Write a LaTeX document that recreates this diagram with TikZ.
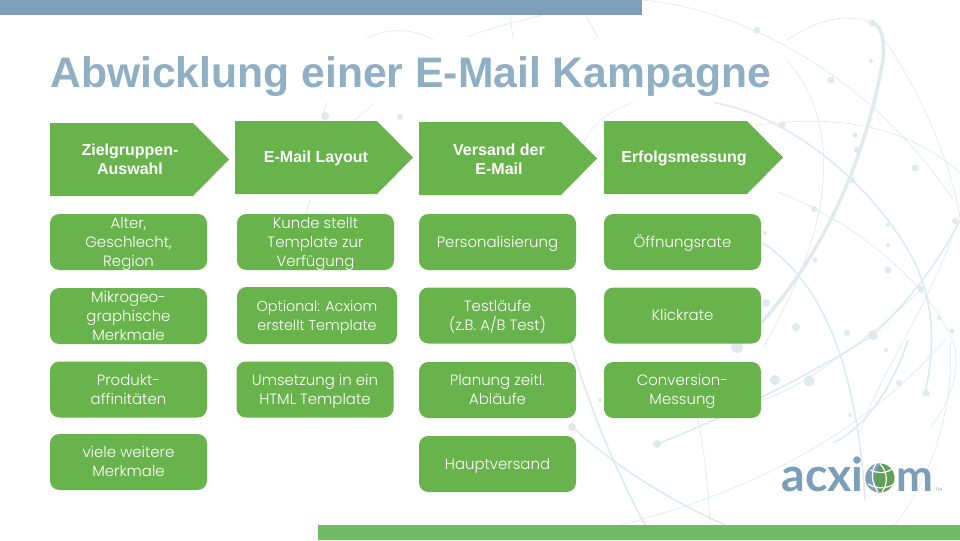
\documentclass[tikz,border=0pt]{standalone}
\usepackage{fontspec}
\setmainfont{Poppins Light}
\newfontfamily\arialfont{Liberation Sans}
\newfontfamily\logofont{Lato}

\definecolor{boxgreen}{HTML}{69B34C}
\definecolor{bandgreen}{HTML}{70BC65}
\definecolor{bandblue}{HTML}{7F9FB8}
\definecolor{titleblue}{HTML}{8FAFC5}
\definecolor{globeline}{HTML}{E1E9EF}
\definecolor{logoblue}{HTML}{7C9FB9}

\tikzset{
  x=0.75pt, y=-0.75pt,
  thinline/.style={draw=globeline, line width=0.5pt},
  midline/.style={draw=globeline, line width=1.2pt},
  thickline/.style={draw=globeline, line width=2.6pt},
  stepfill/.style={fill=boxgreen},
  steptext/.style={text=white, align=center, font=\arialfont\bfseries\fontsize{12}{14.25}\selectfont},
  itembox/.style={fill=boxgreen, rounded corners=7pt, text=white, align=center, inner sep=0pt,
    minimum width=117.75pt, minimum height=42pt, font=\fontsize{11.2}{14.25}\selectfont,
    execute at begin node=\rule[-3pt]{0pt}{#1}},
  itembox/.default=13.5pt,
}

\begin{document}
\begin{tikzpicture}
  \useasboundingbox (0, 0) rectangle (960, 540);
  \fill[white] (0, 0) rectangle (960, 540);

  % globe in the background
  \draw[thickline, line cap=round] (737, 347) .. controls (800, 290) and (860, 190) .. (883, 60) .. controls (885, 35) and (880, 25) .. (872, 23);
  \draw[midline, line cap=round] (715, 103) .. controls (790, 115) and (880, 190) .. (917, 267) .. controls (940, 320) and (930, 370) .. (925, 393);
  \draw[midline] (763, 243) .. controls (810, 275) and (855, 340) .. (865, 500);
  \draw[midline, line cap=round] (657, 444) .. controls (720, 420) and (820, 370) .. (873, 335) .. controls (910, 300) and (940, 260) .. (960, 220);
  \draw[midline] (560, 300) .. controls (575, 370) and (605, 450) .. (645, 525);
  \draw[midline, line cap=round] (572, 427) .. controls (620, 470) and (670, 500) .. (725, 525);
  \draw[midline] (833, 443) .. controls (870, 425) and (895, 380) .. (908, 340);
  \draw[thinline] (640, 0) .. controls (720, 5) and (860, 60) .. (953, 200);
  \draw[thinline] (787, 40) .. controls (810, 25) and (840, 10) .. (872, 23);
  \draw[thinline] (757, 125) .. controls (800, 120) and (890, 110) .. (960, 173);
  \draw[thinline] (778, 192) .. controls (850, 220) and (930, 280) .. (955, 347) .. controls (960, 380) and (945, 410) .. (930, 427);
  \draw[thinline] (787, 60) .. controls (830, 110) and (850, 200) .. (763, 347);
  \draw[thinline] (880, 33) .. controls (920, 90) and (950, 160) .. (960, 217);
  \draw[thinline] (860, 433) .. controls (880, 370) and (930, 310) .. (960, 213);
  \draw[thinline] (697, 417) .. controls (705, 450) and (708, 490) .. (710, 523);
  \draw[thinline] (762, 400) .. controls (800, 390) and (880, 330) .. (921, 289);
  \draw[thinline] (895, 525) .. controls (930, 480) and (955, 410) .. (950, 340);
  \draw[thinline] (620, 525) .. controls (720, 500) and (850, 450) .. (945, 340);
  \draw[thinline] (367, 38) .. controls (385, 28) and (415, 28) .. (433, 40);
  \draw[thinline] (467, 37) .. controls (490, 28) and (515, 22) .. (543, 15);
  \draw[thinline] (510, 15) -- (513, 38);
  \draw[thinline] (587, 17) -- (598, 38);
  \draw[thinline] (327, 103) -- (322, 115);
  \draw[thinline] (375, 103) -- (355, 120);
  \draw[thinline] (633, 103) .. controls (610, 110) and (590, 125) .. (583, 145);
  \draw[thinline] (300, 232) -- (310, 200);
  \foreach \dotx/\doty/\dotr in {325/116/4, 400/117/3, 757/30/3.5, 872/23/3.5, 831/80/3.5, 871/61/2, 855/135/2.5,
    782/125/3.5, 857/150/3, 915/168/3.5, 852/180/3, 814/209/3, 888/225/2, 888/245/2, 815/260/2.5, 888/270/3.5,
    766/303/4, 796/327/4, 737/347/6, 847/333/3, 873/335/5, 921/289/3.5, 939/318/2.5, 952/331/2.5, 809/381/5.5,
    899/383/3, 926/393/3.5, 657/444/4, 572/427/4, 775/380/5, 600/400/2, 886/350/2, 850/415/2, 765/233/2, 955/221/3} {
    \fill[globeline] (\dotx, \doty) circle (\dotr);
  }

  % bands and title
  \fill[bandblue] (0, 0) rectangle (642, 15);
  \fill[bandgreen] (318, 525) rectangle (960, 540);
  \fill[white] (0, 40) rectangle (760, 102);
  \node[anchor=west, inner sep=0pt, text=titleblue, font=\arialfont\bfseries\fontsize{32}{38}\selectfont] (title) at (50, 77) {Abwicklung einer E-Mail Kampagne};

  % process steps
  \fill[stepfill] (50, 123) -- (193, 123) -- (229, 159.5) -- (193, 196) -- (50, 196) -- cycle;
  \fill[stepfill] (235, 121) -- (377, 121) -- (413, 157.5) -- (377, 194) -- (235, 194) -- cycle;
  \fill[stepfill] (419, 122) -- (561, 122) -- (597, 158.5) -- (561, 195) -- (419, 195) -- cycle;
  \fill[stepfill] (604, 121) -- (747, 121) -- (783, 157.5) -- (747, 194) -- (604, 194) -- cycle;
  \node[steptext] (zielgruppe) at (130, 159) {Zielgruppen-\\Auswahl};
  \node[steptext] (layout) at (316, 158.5) {E-Mail Layout};
  \node[steptext] (versand) at (499, 159) {Versand der\\E-Mail};
  \node[steptext] (erfolg) at (684, 158.5) {Erfolgsmessung};

  % first column
  \node[itembox=42pt] (alter) at (128.5, 242) {Alter,\\Geschlecht,\\Region};
  \node[itembox=42pt] (mikro) at (128.5, 316) {Mikrogeo-\\graphische\\Merkmale};
  \node[itembox=27.8pt] (produkt) at (128.5, 389.5) {Produkt-\\affinitäten};
  \node[itembox=27.8pt] (weitere) at (128.5, 462) {viele weitere\\Merkmale};

  % second column
  \node[itembox=42pt] (kunde) at (315.5, 242) {Kunde stellt\\Template zur\\Verfügung};
  \node[itembox=27.8pt, minimum width=120pt, minimum height=42.75pt] (optional) at (317, 315.5) {\fontsize{10.8}{13.5}\selectfont Optional: Acxiom\\\fontsize{10.8}{13.5}\selectfont erstellt Template};
  \node[itembox=27.8pt] (umsetzung) at (315, 389.5) {Umsetzung in ein\\HTML Template};

  % third column
  \node[itembox] (personal) at (497.5, 242) {Personalisierung};
  \node[itembox=27.8pt] (testlauf) at (497.5, 315.5) {Testläufe\\(z.B. A/B Test)};
  \node[itembox=27.8pt] (planung) at (497.5, 390) {Planung zeitl.\\Abläufe};
  \node[itembox] (haupt) at (497.5, 464) {Hauptversand};

  % fourth column
  \node[itembox] (oeffnung) at (682.5, 242) {Öffnungsrate};
  \node[itembox] (klick) at (682.5, 315.5) {Klickrate};
  \node[itembox=27.8pt] (conversion) at (682.5, 390) {Conversion-\\Messung};

  % logo
  \node[anchor=base east, inner sep=0pt, text=logoblue, font=\logofont\bfseries\fontsize{35}{35}\selectfont] (acxi) at (864, 491) {acxi};
  \node[anchor=base west, inner sep=0pt, text=logoblue, font=\logofont\bfseries\fontsize{33}{35}\selectfont] (logom) at (896, 491) {m};
  \node[anchor=west, inner sep=0pt, text=logoblue, font=\logofont\fontsize{3.5}{4}\selectfont] (logotm) at (935, 490) {TM};
  \coordinate (G) at (880, 478);
  \fill[bandgreen!85!black] (G) circle (14.5);
  \fill[logoblue] (G) ++(-90:14.5) arc (-90:-270:14.5) .. controls (872, 472) and (872, 484) .. cycle;
  \draw[white, line width=0.9pt] (870, 470) .. controls (880, 474) and (888, 473) .. (893, 468);
  \draw[white, line width=0.9pt] (868, 484) .. controls (878, 490) and (888, 488) .. (894, 484);
  \draw[white, line width=0.9pt] (880, 464) .. controls (888, 472) and (888, 484) .. (882, 492);
  \draw[white, line width=0.9pt] (876, 464) .. controls (870, 472) and (872, 484) .. (878, 492);
\end{tikzpicture}
\end{document}
